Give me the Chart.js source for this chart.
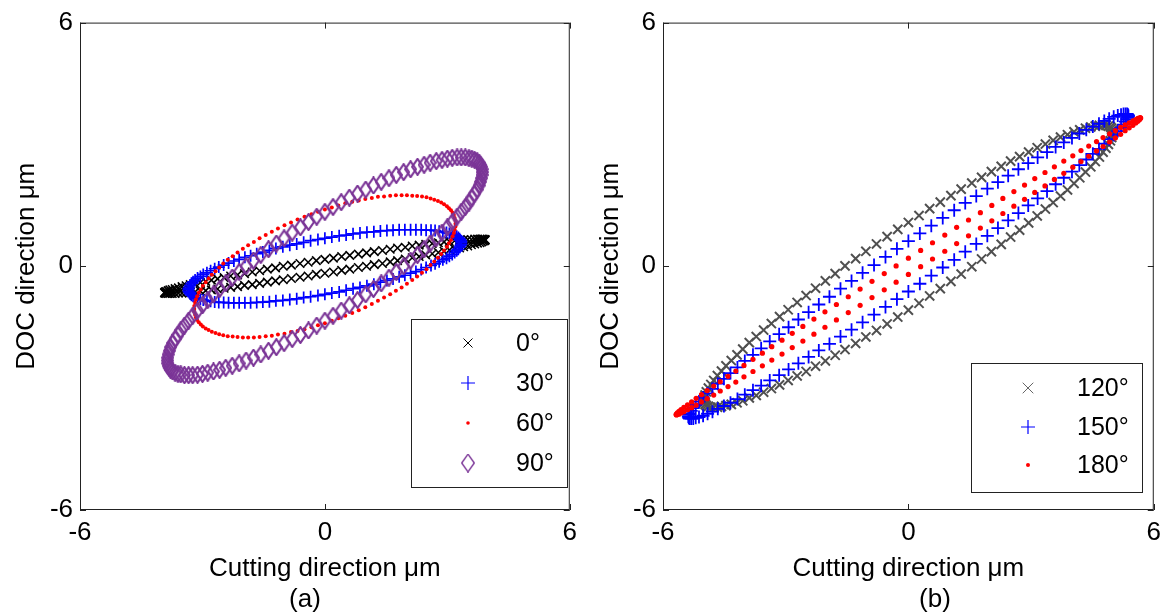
<!DOCTYPE html>
<html><head><meta charset="utf-8">
<script src="https://cdn.jsdelivr.net/npm/chart.js@4.4.0/dist/chart.umd.min.js"></script>
<style>
html,body{margin:0;padding:0;background:#fff;width:1168px;height:616px;overflow:hidden}
#ca{position:absolute;left:0;top:0}
#cb{position:absolute;left:584px;top:0}
</style></head><body>
<canvas id="ca" width="584" height="616"></canvas>
<canvas id="cb" width="584" height="616"></canvas>
<script>
// ---- data ----
const tickValues = [-6, 0, 6];
const tickLabels = ['-6', '0', '6'];
const xTitle = 'Cutting direction μm';
const yTitle = 'DOC direction μm';
const labelsA = ['0°', '30°', '60°', '90°'];
const labelsB = ['120°', '150°', '180°'];
const panelNames = ['(a)', '(b)'];

const deg0 = [[3.93,0.65],[3.92,0.66],[3.91,0.66],[3.88,0.67],[3.84,0.67],[3.80,0.67],[3.74,0.67],[3.67,0.67],[3.59,0.66],[3.50,0.66],[3.40,0.65],[3.30,0.64],[3.18,0.63],[3.05,0.61],[2.92,0.60],[2.78,0.58],[2.63,0.56],[2.47,0.54],[2.31,0.52],[2.14,0.50],[1.97,0.47],[1.78,0.45],[1.60,0.42],[1.41,0.39],[1.21,0.36],[1.02,0.33],[0.82,0.30],[0.61,0.27],[0.41,0.24],[0.21,0.20],
[0,0.17],[-0.21,0.14],[-0.41,0.10],[-0.61,0.07],[-0.82,0.03],[-1.02,0],[-1.21,-0.04],[-1.41,-0.07],[-1.60,-0.11],[-1.78,-0.14],[-1.97,-0.18],[-2.14,-0.21],[-2.31,-0.24],[-2.47,-0.28],[-2.63,-0.31],[-2.78,-0.34],[-2.92,-0.37],[-3.05,-0.40],[-3.18,-0.43],[-3.30,-0.45],[-3.40,-0.48],[-3.50,-0.50],[-3.59,-0.53],[-3.67,-0.55],[-3.74,-0.57],[-3.80,-0.58],[-3.84,-0.60],[-3.88,-0.62],[-3.91,-0.63],[-3.92,-0.64],
[-3.93,-0.65],[-3.92,-0.66],[-3.91,-0.66],[-3.88,-0.67],[-3.84,-0.67],[-3.80,-0.67],[-3.74,-0.67],[-3.67,-0.67],[-3.59,-0.66],[-3.50,-0.66],[-3.40,-0.65],[-3.30,-0.64],[-3.18,-0.63],[-3.05,-0.61],[-2.92,-0.60],[-2.78,-0.58],[-2.63,-0.56],[-2.47,-0.54],[-2.31,-0.52],[-2.14,-0.50],[-1.97,-0.47],[-1.78,-0.45],[-1.60,-0.42],[-1.41,-0.39],[-1.21,-0.36],[-1.02,-0.33],[-0.82,-0.30],[-0.61,-0.27],[-0.41,-0.24],[-0.21,-0.20],
[0,-0.17],[0.21,-0.14],[0.41,-0.10],[0.61,-0.07],[0.82,-0.03],[1.02,0],[1.21,0.04],[1.41,0.07],[1.60,0.11],[1.78,0.14],[1.97,0.18],[2.14,0.21],[2.31,0.24],[2.47,0.28],[2.63,0.31],[2.78,0.34],[2.92,0.37],[3.05,0.40],[3.18,0.43],[3.30,0.45],[3.40,0.48],[3.50,0.50],[3.59,0.53],[3.67,0.55],[3.74,0.57],[3.80,0.58],[3.84,0.60],[3.88,0.62],[3.91,0.63],[3.92,0.64]];

const deg30 = [[3.34,0.58],[3.34,0.62],[3.32,0.65],[3.30,0.68],[3.27,0.71],[3.23,0.74],[3.18,0.77],[3.12,0.79],[3.05,0.81],[2.98,0.83],[2.89,0.85],[2.80,0.86],[2.70,0.88],[2.60,0.89],[2.48,0.89],[2.36,0.90],[2.23,0.90],[2.10,0.90],[1.96,0.90],[1.82,0.90],[1.67,0.89],[1.52,0.88],[1.36,0.87],[1.20,0.85],[1.03,0.84],[0.86,0.82],[0.69,0.80],[0.52,0.77],[0.35,0.75],[0.17,0.72],
[0,0.69],[-0.17,0.66],[-0.35,0.63],[-0.52,0.59],[-0.69,0.55],[-0.86,0.52],[-1.03,0.48],[-1.20,0.44],[-1.36,0.39],[-1.52,0.35],[-1.67,0.31],[-1.82,0.26],[-1.96,0.22],[-2.10,0.17],[-2.23,0.13],[-2.36,0.08],[-2.48,0.03],[-2.60,-0.02],[-2.70,-0.06],[-2.80,-0.11],[-2.89,-0.16],[-2.98,-0.20],[-3.05,-0.25],[-3.12,-0.29],[-3.18,-0.34],[-3.23,-0.38],[-3.27,-0.42],[-3.30,-0.47],[-3.32,-0.51],[-3.34,-0.54],
[-3.34,-0.58],[-3.34,-0.62],[-3.32,-0.65],[-3.30,-0.68],[-3.27,-0.71],[-3.23,-0.74],[-3.18,-0.77],[-3.12,-0.79],[-3.05,-0.81],[-2.98,-0.83],[-2.89,-0.85],[-2.80,-0.86],[-2.70,-0.88],[-2.60,-0.89],[-2.48,-0.89],[-2.36,-0.90],[-2.23,-0.90],[-2.10,-0.90],[-1.96,-0.90],[-1.82,-0.90],[-1.67,-0.89],[-1.52,-0.88],[-1.36,-0.87],[-1.20,-0.85],[-1.03,-0.84],[-0.86,-0.82],[-0.69,-0.80],[-0.52,-0.77],[-0.35,-0.75],[-0.17,-0.72],
[0,-0.69],[0.17,-0.66],[0.35,-0.63],[0.52,-0.59],[0.69,-0.55],[0.86,-0.52],[1.03,-0.48],[1.20,-0.44],[1.36,-0.39],[1.52,-0.35],[1.67,-0.31],[1.82,-0.26],[1.96,-0.22],[2.10,-0.17],[2.23,-0.13],[2.36,-0.08],[2.48,-0.03],[2.60,0.02],[2.70,0.06],[2.80,0.11],[2.89,0.16],[2.98,0.20],[3.05,0.25],[3.12,0.29],[3.18,0.34],[3.23,0.38],[3.27,0.42],[3.30,0.47],[3.32,0.51],[3.34,0.54]];

const deg60 = [[3.20,1.05],[3.20,1.12],[3.18,1.19],[3.16,1.26],[3.13,1.32],[3.09,1.38],[3.04,1.43],[2.99,1.48],[2.92,1.53],[2.85,1.57],[2.77,1.61],[2.68,1.64],[2.59,1.67],[2.49,1.70],[2.38,1.72],[2.26,1.73],[2.14,1.74],[2.01,1.75],[1.88,1.75],[1.74,1.75],[1.60,1.74],[1.45,1.72],[1.30,1.71],[1.15,1.68],[0.99,1.66],[0.83,1.62],[0.67,1.59],[0.50,1.55],[0.33,1.50],[0.17,1.45],
[0,1.40],[-0.17,1.34],[-0.33,1.28],[-0.50,1.22],[-0.67,1.15],[-0.83,1.08],[-0.99,1.01],[-1.15,0.93],[-1.30,0.85],[-1.45,0.77],[-1.60,0.69],[-1.74,0.60],[-1.88,0.52],[-2.01,0.43],[-2.14,0.34],[-2.26,0.25],[-2.38,0.16],[-2.49,0.07],[-2.59,-0.03],[-2.68,-0.12],[-2.77,-0.21],[-2.85,-0.30],[-2.92,-0.39],[-2.99,-0.48],[-3.04,-0.57],[-3.09,-0.65],[-3.13,-0.74],[-3.16,-0.82],[-3.18,-0.90],[-3.20,-0.98],
[-3.20,-1.05],[-3.20,-1.12],[-3.18,-1.19],[-3.16,-1.26],[-3.13,-1.32],[-3.09,-1.38],[-3.04,-1.43],[-2.99,-1.48],[-2.92,-1.53],[-2.85,-1.57],[-2.77,-1.61],[-2.68,-1.64],[-2.59,-1.67],[-2.49,-1.70],[-2.38,-1.72],[-2.26,-1.73],[-2.14,-1.74],[-2.01,-1.75],[-1.88,-1.75],[-1.74,-1.75],[-1.60,-1.74],[-1.45,-1.72],[-1.30,-1.71],[-1.15,-1.68],[-0.99,-1.66],[-0.83,-1.62],[-0.67,-1.59],[-0.50,-1.55],[-0.33,-1.50],[-0.17,-1.45],
[0,-1.40],[0.17,-1.34],[0.33,-1.28],[0.50,-1.22],[0.67,-1.15],[0.83,-1.08],[0.99,-1.01],[1.15,-0.93],[1.30,-0.85],[1.45,-0.77],[1.60,-0.69],[1.74,-0.60],[1.88,-0.52],[2.01,-0.43],[2.14,-0.34],[2.26,-0.25],[2.38,-0.16],[2.49,-0.07],[2.59,0.03],[2.68,0.12],[2.77,0.21],[2.85,0.30],[2.92,0.39],[2.99,0.48],[3.04,0.57],[3.09,0.65],[3.13,0.74],[3.16,0.82],[3.18,0.90],[3.20,0.98]];

const deg90 = [[3.86,2.32],[3.85,2.39],[3.84,2.45],[3.81,2.50],[3.78,2.55],[3.73,2.59],[3.67,2.62],[3.60,2.65],[3.53,2.66],[3.44,2.68],[3.34,2.68],[3.24,2.68],[3.12,2.67],[3.00,2.65],[2.87,2.62],[2.73,2.59],[2.58,2.55],[2.43,2.50],[2.27,2.45],[2.10,2.39],[1.93,2.32],[1.75,2.25],[1.57,2.17],[1.38,2.08],[1.19,1.99],[1.00,1.89],[0.80,1.79],[0.60,1.69],[0.40,1.58],[0.20,1.46],
[0,1.34],[-0.20,1.22],[-0.40,1.09],[-0.60,0.96],[-0.80,0.83],[-1.00,0.69],[-1.19,0.56],[-1.38,0.42],[-1.57,0.28],[-1.75,0.14],[-1.93,0],[-2.10,-0.14],[-2.27,-0.28],[-2.43,-0.42],[-2.58,-0.56],[-2.73,-0.69],[-2.87,-0.83],[-3.00,-0.96],[-3.12,-1.09],[-3.24,-1.22],[-3.34,-1.34],[-3.44,-1.46],[-3.53,-1.57],[-3.60,-1.69],[-3.67,-1.79],[-3.73,-1.89],[-3.78,-1.99],[-3.81,-2.08],[-3.84,-2.17],[-3.85,-2.25],
[-3.86,-2.32],[-3.85,-2.39],[-3.84,-2.45],[-3.81,-2.50],[-3.78,-2.55],[-3.73,-2.59],[-3.67,-2.62],[-3.60,-2.65],[-3.53,-2.66],[-3.44,-2.68],[-3.34,-2.68],[-3.24,-2.68],[-3.12,-2.67],[-3.00,-2.65],[-2.87,-2.62],[-2.73,-2.59],[-2.58,-2.55],[-2.43,-2.50],[-2.27,-2.45],[-2.10,-2.39],[-1.93,-2.32],[-1.75,-2.25],[-1.57,-2.17],[-1.38,-2.08],[-1.19,-1.99],[-1.00,-1.89],[-0.80,-1.79],[-0.60,-1.69],[-0.40,-1.58],[-0.20,-1.46],
[0,-1.34],[0.20,-1.22],[0.40,-1.09],[0.60,-0.96],[0.80,-0.83],[1.00,-0.69],[1.19,-0.56],[1.38,-0.42],[1.57,-0.28],[1.75,-0.14],[1.93,0],[2.10,0.14],[2.27,0.28],[2.43,0.42],[2.58,0.56],[2.73,0.69],[2.87,0.83],[3.00,0.96],[3.12,1.09],[3.24,1.22],[3.34,1.34],[3.44,1.46],[3.53,1.57],[3.60,1.69],[3.67,1.79],[3.73,1.89],[3.78,1.99],[3.81,2.08],[3.84,2.17],[3.85,2.25]];

const deg120 = [[5.00,3.30],[4.99,3.35],[4.97,3.40],[4.94,3.43],[4.89,3.45],[4.83,3.47],[4.76,3.47],[4.67,3.47],[4.57,3.45],[4.46,3.43],[4.33,3.40],[4.19,3.36],[4.05,3.31],[3.89,3.24],[3.72,3.18],[3.54,3.10],[3.35,3.01],[3.15,2.92],[2.94,2.81],[2.72,2.70],[2.50,2.59],[2.27,2.46],[2.03,2.33],[1.79,2.19],[1.55,2.05],[1.29,1.90],[1.04,1.74],[0.78,1.58],[0.52,1.42],[0.26,1.25],
[0,1.08],[-0.26,0.91],[-0.52,0.73],[-0.78,0.55],[-1.04,0.37],[-1.29,0.19],[-1.55,0.01],[-1.79,-0.18],[-2.03,-0.36],[-2.27,-0.54],[-2.50,-0.72],[-2.72,-0.89],[-2.94,-1.07],[-3.15,-1.24],[-3.35,-1.41],[-3.54,-1.57],[-3.72,-1.73],[-3.89,-1.88],[-4.05,-2.04],[-4.19,-2.18],[-4.33,-2.32],[-4.46,-2.45],[-4.57,-2.58],[-4.67,-2.69],[-4.76,-2.81],[-4.83,-2.91],[-4.89,-3.00],[-4.94,-3.09],[-4.97,-3.17],[-4.99,-3.24],
[-5.00,-3.30],[-4.99,-3.35],[-4.97,-3.40],[-4.94,-3.43],[-4.89,-3.45],[-4.83,-3.47],[-4.76,-3.47],[-4.67,-3.47],[-4.57,-3.45],[-4.46,-3.43],[-4.33,-3.40],[-4.19,-3.36],[-4.05,-3.31],[-3.89,-3.24],[-3.72,-3.18],[-3.54,-3.10],[-3.35,-3.01],[-3.15,-2.92],[-2.94,-2.81],[-2.72,-2.70],[-2.50,-2.59],[-2.27,-2.46],[-2.03,-2.33],[-1.79,-2.19],[-1.55,-2.05],[-1.29,-1.90],[-1.04,-1.74],[-0.78,-1.58],[-0.52,-1.42],[-0.26,-1.25],
[0,-1.08],[0.26,-0.91],[0.52,-0.73],[0.78,-0.55],[1.04,-0.37],[1.29,-0.19],[1.55,-0.01],[1.79,0.18],[2.03,0.36],[2.27,0.54],[2.50,0.72],[2.72,0.89],[2.94,1.07],[3.15,1.24],[3.35,1.41],[3.54,1.57],[3.72,1.73],[3.89,1.88],[4.05,2.04],[4.19,2.18],[4.33,2.32],[4.46,2.45],[4.57,2.58],[4.67,2.69],[4.76,2.81],[4.83,2.91],[4.89,3.00],[4.94,3.09],[4.97,3.17],[4.99,3.24]];

const deg150 = [[5.38,3.70],[5.37,3.73],[5.35,3.75],[5.31,3.75],[5.26,3.75],[5.20,3.73],[5.12,3.71],[5.02,3.68],[4.91,3.63],[4.79,3.58],[4.66,3.51],[4.51,3.44],[4.35,3.36],[4.18,3.27],[4.00,3.16],[3.80,3.05],[3.60,2.94],[3.39,2.81],[3.16,2.68],[2.93,2.54],[2.69,2.39],[2.44,2.23],[2.19,2.07],[1.93,1.91],[1.66,1.73],[1.39,1.56],[1.12,1.38],[0.84,1.19],[0.56,1.00],[0.28,0.81],
[0,0.62],[-0.28,0.43],[-0.56,0.23],[-0.84,0.03],[-1.12,-0.16],[-1.39,-0.36],[-1.66,-0.55],[-1.93,-0.75],[-2.19,-0.94],[-2.44,-1.13],[-2.69,-1.31],[-2.93,-1.50],[-3.16,-1.67],[-3.39,-1.85],[-3.60,-2.02],[-3.80,-2.18],[-4.00,-2.33],[-4.18,-2.49],[-4.35,-2.63],[-4.51,-2.77],[-4.66,-2.89],[-4.79,-3.02],[-4.91,-3.13],[-5.02,-3.23],[-5.12,-3.33],[-5.20,-3.41],[-5.26,-3.49],[-5.31,-3.56],[-5.35,-3.62],[-5.37,-3.66],
[-5.38,-3.70],[-5.37,-3.73],[-5.35,-3.75],[-5.31,-3.75],[-5.26,-3.75],[-5.20,-3.73],[-5.12,-3.71],[-5.02,-3.68],[-4.91,-3.63],[-4.79,-3.58],[-4.66,-3.51],[-4.51,-3.44],[-4.35,-3.36],[-4.18,-3.27],[-4.00,-3.16],[-3.80,-3.05],[-3.60,-2.94],[-3.39,-2.81],[-3.16,-2.68],[-2.93,-2.54],[-2.69,-2.39],[-2.44,-2.23],[-2.19,-2.07],[-1.93,-1.91],[-1.66,-1.73],[-1.39,-1.56],[-1.12,-1.38],[-0.84,-1.19],[-0.56,-1.00],[-0.28,-0.81],
[0,-0.62],[0.28,-0.43],[0.56,-0.23],[0.84,-0.03],[1.12,0.16],[1.39,0.36],[1.66,0.55],[1.93,0.75],[2.19,0.94],[2.44,1.13],[2.69,1.31],[2.93,1.50],[3.16,1.67],[3.39,1.85],[3.60,2.02],[3.80,2.18],[4.00,2.33],[4.18,2.49],[4.35,2.63],[4.51,2.77],[4.66,2.89],[4.79,3.02],[4.91,3.13],[5.02,3.23],[5.12,3.33],[5.20,3.41],[5.26,3.49],[5.31,3.56],[5.35,3.62],[5.37,3.66]];

const deg180 = [[5.68,3.65],[5.67,3.66],[5.65,3.65],[5.61,3.64],[5.56,3.61],[5.49,3.58],[5.40,3.53],[5.30,3.48],[5.19,3.42],[5.06,3.34],[4.92,3.26],[4.76,3.17],[4.60,3.07],[4.41,2.96],[4.22,2.85],[4.02,2.72],[3.80,2.59],[3.57,2.45],[3.34,2.31],[3.09,2.16],[2.84,2.00],[2.58,1.84],[2.31,1.67],[2.04,1.50],[1.76,1.32],[1.47,1.14],[1.18,0.96],[0.89,0.77],[0.59,0.58],[0.30,0.39],
[0,0.20],[-0.30,0.01],[-0.59,-0.18],[-0.89,-0.37],[-1.18,-0.56],[-1.47,-0.75],[-1.76,-0.94],[-2.04,-1.12],[-2.31,-1.30],[-2.58,-1.48],[-2.84,-1.65],[-3.09,-1.82],[-3.34,-1.98],[-3.57,-2.14],[-3.80,-2.29],[-4.02,-2.44],[-4.22,-2.58],[-4.41,-2.71],[-4.60,-2.84],[-4.76,-2.95],[-4.92,-3.06],[-5.06,-3.16],[-5.19,-3.25],[-5.30,-3.34],[-5.40,-3.41],[-5.49,-3.47],[-5.56,-3.53],[-5.61,-3.57],[-5.65,-3.61],[-5.67,-3.64],
[-5.68,-3.65],[-5.67,-3.66],[-5.65,-3.65],[-5.61,-3.64],[-5.56,-3.61],[-5.49,-3.58],[-5.40,-3.53],[-5.30,-3.48],[-5.19,-3.42],[-5.06,-3.34],[-4.92,-3.26],[-4.76,-3.17],[-4.60,-3.07],[-4.41,-2.96],[-4.22,-2.85],[-4.02,-2.72],[-3.80,-2.59],[-3.57,-2.45],[-3.34,-2.31],[-3.09,-2.16],[-2.84,-2.00],[-2.58,-1.84],[-2.31,-1.67],[-2.04,-1.50],[-1.76,-1.32],[-1.47,-1.14],[-1.18,-0.96],[-0.89,-0.77],[-0.59,-0.58],[-0.30,-0.39],
[0,-0.20],[0.30,-0.01],[0.59,0.18],[0.89,0.37],[1.18,0.56],[1.47,0.75],[1.76,0.94],[2.04,1.12],[2.31,1.30],[2.58,1.48],[2.84,1.65],[3.09,1.82],[3.34,1.98],[3.57,2.14],[3.80,2.29],[4.02,2.44],[4.22,2.58],[4.41,2.71],[4.60,2.84],[4.76,2.95],[4.92,3.06],[5.06,3.16],[5.19,3.25],[5.30,3.34],[5.40,3.41],[5.49,3.47],[5.56,3.53],[5.61,3.57],[5.65,3.61],[5.67,3.64]];

// ---- styling ----
const FONT = '"Liberation Sans", Arial, Helvetica, sans-serif';
Chart.defaults.font.family = FONT;
Chart.defaults.color = '#000';

function makeDiamond(w, h, color, lw) {
  const c = document.createElement('canvas');
  c.width = w; c.height = h;
  const g = c.getContext('2d');
  g.strokeStyle = color; g.lineWidth = lw;
  g.beginPath();
  g.moveTo(w / 2, lw / 2); g.lineTo(w - lw / 2, h / 2);
  g.lineTo(w / 2, h - lw / 2); g.lineTo(lw / 2, h / 2);
  g.closePath(); g.stroke();
  return c;
}
const PURPLE = '#7b3597';
const diamondPlot = makeDiamond(13, 18, PURPLE, 2.1);
const diamondLegend = makeDiamond(14, 19, PURPLE, 1.4);

const toPts = a => a.map(p => ({x: p[0], y: p[1]}));

function ds(label, data, color, style, radius, bw, order) {
  return {
    label, data: toPts(data), order,
    pointStyle: style, pointRadius: radius, pointHoverRadius: radius,
    pointBorderWidth: bw, pointBorderColor: color, pointBackgroundColor: color,
    borderColor: color, backgroundColor: color, showLine: false
  };
}

function makePlugin(cfg) {
  return {
    id: 'deco' + cfg.id,
    afterDatasetsDraw(chart) {
      const {ctx, chartArea: a} = chart;
      const xs = chart.scales.x, ys = chart.scales.y;
      ctx.save();
      ctx.strokeStyle = '#222'; ctx.lineWidth = 1;
      ctx.strokeRect(a.left + 0.5, a.top + 0.5, a.right - a.left - 1, a.bottom - a.top - 1);
      const TL = 6;
      ctx.beginPath();
      tickValues.forEach(v => {
        const px = Math.round(xs.getPixelForValue(v)) + 0.5;
        ctx.moveTo(px, a.bottom); ctx.lineTo(px, a.bottom - TL);
        ctx.moveTo(px, a.top); ctx.lineTo(px, a.top + TL);
        const py = Math.round(ys.getPixelForValue(v)) + 0.5;
        ctx.moveTo(a.left, py); ctx.lineTo(a.left + TL, py);
        ctx.moveTo(a.right, py); ctx.lineTo(a.right - TL, py);
      });
      ctx.stroke();
      const L = cfg.legend;
      ctx.fillStyle = '#fff';
      ctx.fillRect(L.x, L.y, L.w, L.h);
      ctx.strokeStyle = '#222'; ctx.lineWidth = 1;
      ctx.strokeRect(L.x + 0.5, L.y + 0.5, L.w, L.h);
      L.items.forEach((it, i) => {
        const y = L.rows[i];
        ctx.strokeStyle = it.color; ctx.fillStyle = it.color; ctx.lineWidth = it.bw;
        Chart.helpers.drawPoint(ctx, {pointStyle: it.style, radius: it.r, rotation: 0, borderWidth: it.bw}, L.mx, y);
        ctx.fillStyle = '#000';
        ctx.font = '25px ' + FONT;
        ctx.textAlign = 'left'; ctx.textBaseline = 'middle';
        ctx.fillText(it.label, L.tx, y + 1);
      });
      ctx.fillStyle = '#000';
      ctx.font = '26px ' + FONT;
      ctx.textAlign = 'center'; ctx.textBaseline = 'middle';
      ctx.fillText(cfg.caption, cfg.capX, cfg.capY);
      ctx.restore();
    }
  };
}

function axisOpts(isX, fitSize) {
  return {
    type: 'linear', min: -6, max: 6,
    afterBuildTicks: s => { s.ticks = tickValues.map(v => ({value: v})); },
    afterFit: s => { if (isX) s.height = fitSize; else s.width = fitSize; },
    ticks: {
      callback: v => tickLabels[tickValues.indexOf(v)],
      font: {size: 26}, color: '#000', padding: 7,
      maxRotation: 0, minRotation: 0, autoSkip: false
    },
    grid: {display: false, drawTicks: false},
    border: {display: false},
    title: {
      display: true, text: isX ? xTitle : yTitle, color: '#000',
      font: {size: 26},
      padding: isX ? {top: 0, bottom: 32} : {top: 11, bottom: 0}
    }
  };
}

function makeChart(id, datasets, padRight, yWidth, plugin) {
  return new Chart(document.getElementById(id), {
    type: 'scatter',
    data: {datasets},
    options: {
      responsive: false, animation: false, events: [],
      devicePixelRatio: 1,
      layout: {padding: {left: 0, right: padRight, top: 20, bottom: 0}},
      plugins: {legend: {display: false}, tooltip: {enabled: false}},
      scales: {x: axisOpts(true, 106), y: axisOpts(false, yWidth)}
    },
    plugins: [plugin]
  });
}

// panel (a)
makeChart('ca', [
  ds(labelsA[0], deg0, '#000000', 'crossRot', 6, 1.6, 4),
  ds(labelsA[1], deg30, '#0000ff', 'cross', 6, 1.7, 3),
  ds(labelsA[2], deg60, '#ff0000', 'circle', 2, 0, 2),
  ds(labelsA[3], deg90, PURPLE, diamondPlot, 6, 2.1, 1)
], 8, 80, makePlugin({
  id: 'a', caption: panelNames[0], capX: 305, capY: 600,
  legend: {x: 411, y: 319, w: 156, h: 168, mx: 468, tx: 516, rows: [343, 383, 423, 463],
    items: [
      {label: labelsA[0], color: '#000', style: 'crossRot', r: 6.4, bw: 1},
      {label: labelsA[1], color: '#0000ff', style: 'cross', r: 7, bw: 1.2},
      {label: labelsA[2], color: '#ff0000', style: 'circle', r: 1.8, bw: 0},
      {label: labelsA[3], color: PURPLE, style: diamondLegend, r: 7, bw: 1.4}
    ]}
}));

// panel (b)
makeChart('cb', [
  ds(labelsB[0], deg120, '#505050', 'crossRot', 6.5, 2, 3),
  ds(labelsB[1], deg150, '#0000ff', 'cross', 6.5, 1.8, 2),
  ds(labelsB[2], deg180, '#ff0000', 'circle', 2.6, 0, 1)
], 12, 79, makePlugin({
  id: 'b', caption: panelNames[1], capX: 935 - 584, capY: 600,
  legend: {x: 387, y: 363, w: 171, h: 129, mx: 444, tx: 493, rows: [388, 427, 465],
    items: [
      {label: labelsB[0], color: '#666666', style: 'crossRot', r: 7.5, bw: 1},
      {label: labelsB[1], color: '#0000ff', style: 'cross', r: 7, bw: 1.2},
      {label: labelsB[2], color: '#ff0000', style: 'circle', r: 2, bw: 0}
    ]}
}));
</script>
</body></html>
